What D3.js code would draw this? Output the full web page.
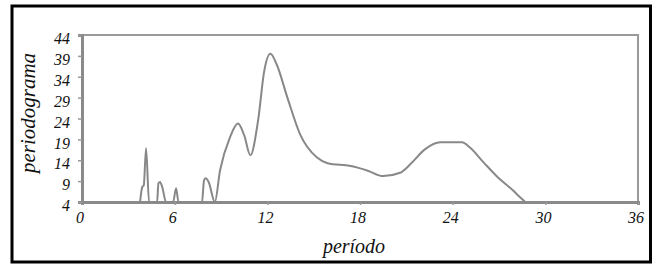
<!DOCTYPE html>
<meta charset="UTF-8">
<html>
<head>
<style>
html, body { margin:0; padding:0; background:#fff; }
</style>
</head>
<body>
<svg width="657" height="273"></svg>
<script src="https://cdn.jsdelivr.net/npm/d3@7/dist/d3.min.js"></script>
<script>
// periodograma vs periodo
var periodo = [3.76, 3.9, 4.0, 4.15, 4.34, 4.86, 4.95, 5.05, 5.2, 5.44, 5.9, 6.09, 6.25, 7.77, 7.9, 8.0, 8.2, 8.6,
               8.94, 9.58, 10.1, 10.5, 10.9, 11.4, 11.8, 12.2, 12.6, 13.3, 14.1, 15.2, 15.9, 17.4, 18.5, 19.5,
               20.6, 21.3, 22.2, 23.2, 24.6, 25.1, 26.0, 26.9, 27.9, 28.4, 28.7];
var periodograma = [4, 7.6, 8, 16.9, 4, 4, 8.5, 8.8, 7.5, 4, 4, 7.3, 4, 4, 9.2, 9.7, 8.8, 4,
                    11.6, 19.5, 22.8, 20, 15.2, 23.5, 35.4, 39.5, 37, 29, 20.4, 14.7, 13.3, 12.6, 11.5, 10.2,
                    11.0, 13.2, 16.6, 18.3, 18.3, 17.1, 13.5, 10, 6.8, 5, 4];
var xTicks = [0, 6, 12, 18, 24, 30, 36];
var yTicks = [4, 9, 14, 19, 24, 29, 34, 39, 44];

var svg = d3.select("svg");
var m = {left: 82, top: 35, right: 638, bottom: 202};
var serif = "Liberation Serif";

var x = d3.scaleLinear().domain([0, 36]).range([m.left, m.right]);
var y = d3.scaleLinear().domain([4, 44]).range([m.bottom, m.top]);

// outer frame
svg.append("rect")
  .attr("x", 12).attr("y", 6).attr("width", 638.5).attr("height", 256)
  .attr("fill", "none").attr("stroke", "#000").attr("stroke-width", 3);

// plot box
svg.append("rect")
  .attr("x", m.left).attr("y", m.top)
  .attr("width", m.right - m.left).attr("height", m.bottom - m.top)
  .attr("fill", "none").attr("stroke", "#9a9a9a").attr("stroke-width", 2);

var xAxis = svg.append("g")
  .attr("transform", "translate(0," + m.bottom + ")")
  .call(d3.axisBottom(x).tickValues(xTicks).tickSize(3).tickPadding(7));
var yAxis = svg.append("g")
  .attr("transform", "translate(" + m.left + ",0)")
  .call(d3.axisLeft(y).tickValues(yTicks).tickSize(4).tickPadding(8));

[xAxis, yAxis].forEach(function(g) {
  g.attr("font-family", null).attr("font-size", null);
  g.select(".domain").attr("stroke", "#8a8a8a").attr("stroke-width", 3);
  g.selectAll(".tick line").attr("stroke", "#999").attr("stroke-width", 1.5);
  g.selectAll(".tick text")
    .attr("fill", "#111")
    .attr("font-family", serif)
    .attr("font-size", 16)
    .attr("font-style", "italic");
});
yAxis.selectAll(".tick text").attr("dy", "0.54em");
xAxis.selectAll(".tick text").attr("dx", "-0.15em");

var pts = periodo.map(function(p, i) { return [p, periodograma[i]]; });

svg.append("clipPath").attr("id", "clip").append("rect")
  .attr("x", m.left).attr("y", m.top - 5).attr("width", m.right - m.left).attr("height", m.bottom - m.top + 5);

svg.append("path")
  .datum(pts)
  .attr("clip-path", "url(#clip)")
  .attr("fill", "none")
  .attr("stroke", "#888")
  .attr("stroke-width", 2)
  .attr("d", d3.line()
    .x(function(d) { return x(d[0]); })
    .y(function(d) { return y(d[1]); })
    .curve(d3.curveMonotoneX));

svg.append("text")
  .attr("transform", "translate(35,113) rotate(-90)")
  .attr("text-anchor", "middle")
  .attr("font-family", serif)
  .attr("font-style", "italic")
  .attr("font-size", 21)
  .attr("fill", "#111")
  .text("periodograma");

svg.append("text")
  .attr("x", 354).attr("y", 253)
  .attr("text-anchor", "middle")
  .attr("font-family", serif)
  .attr("font-style", "italic")
  .attr("font-size", 20)
  .attr("fill", "#111")
  .text("período");
</script>
</body>
</html>
